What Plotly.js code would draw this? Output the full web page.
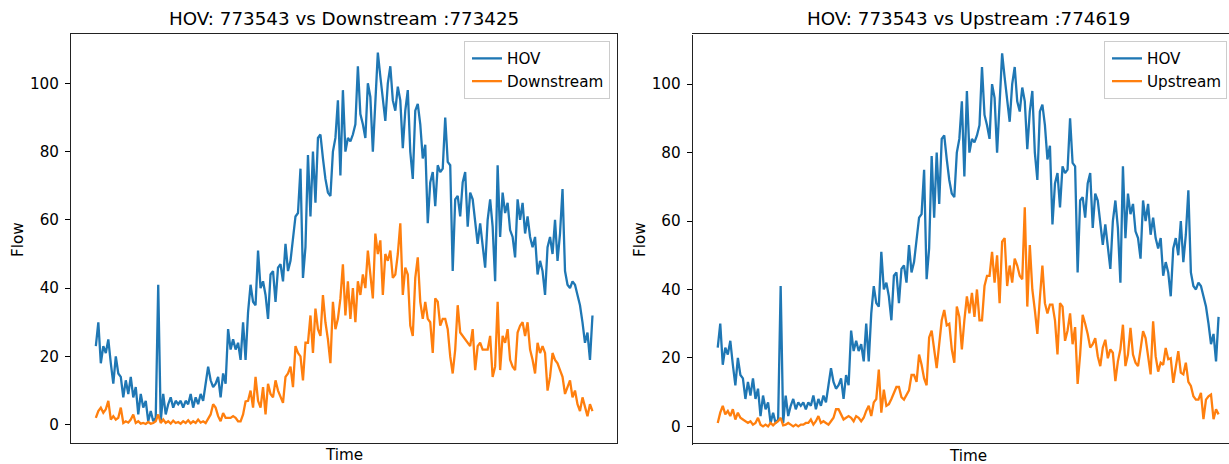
<!DOCTYPE html>
<html>
<head>
<meta charset="utf-8">
<script src="https://cdn.plot.ly/plotly-3.0.1.min.js"></script>
<style>
  html, body { margin: 0; padding: 0; background: #fff; overflow: hidden; }
  #chart { width: 1260px; height: 464px; }
</style>
</head>
<body>
<div id="chart"></div>
<script>
// Flow per sample for the HOV detector and its neighbours
const hovFlow = [
  23, 30, 18, 23, 21, 25, 18, 12, 20, 15,
  14, 8, 13, 9, 14, 8, 11, 3, 9, 5,
  7, 1, 4, 1, 2, 41, 1, 9, 3, 6,
  8, 5, 7, 6, 7, 5, 7, 6, 9, 5,
  8, 6, 9, 7, 12, 17, 13, 11, 12, 14,
  8, 15, 12, 28, 22, 25, 22, 24, 19, 30,
  19, 33, 41, 36, 35, 51, 40, 42, 38, 31,
  44, 45, 36, 46, 47, 42, 53, 45, 48, 55,
  61, 62, 75, 43, 52, 79, 61, 80, 65, 84,
  85, 78, 72, 68, 67, 80, 84, 95, 73, 98,
  80, 84, 83, 85, 88, 105, 91, 88, 84, 100,
  96, 80, 96, 109, 102, 96, 89, 100, 105, 95,
  92, 99, 95, 81, 92, 98, 80, 72, 92, 94,
  88, 78, 82, 59, 71, 74, 64, 76, 74, 75,
  90, 77, 76, 45, 66, 67, 61, 71, 74, 58,
  68, 66, 60, 53, 59, 53, 46, 60, 66, 58,
  42, 76, 55, 68, 62, 65, 57, 55, 49, 66,
  60, 65, 56, 61, 55, 52, 55, 44, 48, 45,
  38, 52, 55, 50, 60, 48, 56, 69, 45, 41,
  40, 42, 41, 38, 35, 30, 24, 27, 19, 32
];

const downstreamFlow = [
  2, 4, 5, 3.5, 4.5, 7, 1.5, 2.5, 1.5, 2,
  5, 0.5, 1, 0.6, 1.5, 3, 0.5, 1, 0.3, 0.5,
  0.2, 0.8, 0.3, 0.5, 1, 3, 0.5, 1.5, 0.5, 1,
  0.3, 1.2, 0.5, 0.8, 0.3, 1, 0.5, 1.3, 0.4, 1,
  0.5, 1.5, 0.6, 1, 0.5, 2, 3, 6, 5, 2.5,
  1, 3.4, 2, 2, 2, 2.5, 2, 1, 1, 3,
  6.8, 7, 10, 5, 14, 7, 5, 11, 3, 12,
  9, 8, 13, 10, 8, 6.4, 14, 15, 17, 11,
  23, 21, 20, 13, 24, 24, 32, 21, 34, 28,
  26, 38, 30, 25, 18, 36, 28, 31, 37, 47,
  32, 42, 31, 40, 30, 42, 38, 44, 40, 51,
  44, 37, 56, 50, 54, 38, 50, 48, 51, 43,
  44, 50, 59, 38, 46, 44, 29, 26, 43, 49,
  36, 31, 36, 31, 30, 21, 37, 36, 29, 31,
  31, 28, 20, 15, 22, 35, 27, 26, 25, 24,
  23, 28, 16, 23, 24, 22, 22, 22, 26, 14,
  17, 36, 16, 26, 24, 28, 19, 17, 16, 27,
  29, 30, 26, 30, 22, 19, 15, 24, 21, 23,
  21, 10, 14, 21, 19, 18, 16, 14, 9, 11,
  13, 8, 10, 6, 4, 8, 5, 2.5, 6, 4
];

const upstreamFlow = [
  1, 4, 6, 3.5, 4.5, 3, 5, 2, 4, 2.5,
  2, 1.5, 1, 1.5, 0.5, 1, 2.5, 0.5, 0, 0.5,
  0, 1, 0.3, 1, 1.5, 2.5, 0.3, 0.5, 1, 0.5,
  0, 0.5, 0, 0.5, 0.5, 1, 1, 2, 0.5, 1.5,
  3, 1, 1.5, 1, 0.5, 1.5, 2.5, 5, 5, 3.5,
  2, 2.5, 3, 2.5, 1.5, 3, 2.5, 1.5, 2.5, 4.5,
  6, 3, 7, 8, 16.6, 4, 10.7, 6, 6.5, 8,
  9.8, 11.5, 11.5, 8.5, 7.8, 9, 10.5, 15, 15, 13,
  21, 18, 14, 12, 26, 28, 23, 17, 24, 31,
  34, 29.5, 30, 22.5, 18.6, 35, 32, 22.5, 31, 38,
  33, 39, 32, 40, 31, 31, 41, 44, 44, 51,
  42, 50, 36, 54, 55, 41, 47, 42, 49, 47,
  44, 43, 64, 35, 53, 40, 34, 27, 37.5, 47,
  36, 33, 35.6, 35.6, 31, 21, 36, 35, 25, 28,
  33, 24, 29, 12.4, 21, 32.6, 30, 27, 23, 24,
  25.8, 20.5, 17.6, 23, 25.3, 19.9, 22.5, 21.5, 13.2, 19,
  22.5, 29.7, 17.6, 21, 28.8, 21, 18.6, 17.6, 22.5, 27.8,
  25.8, 20, 15.2, 30.7, 20.5, 16, 18.6, 18, 22.9, 19.6,
  19.9, 12.7, 17.6, 22, 15.7, 15.2, 18.6, 13, 11.8, 8.8,
  7.8, 7.8, 9.8, 2.1, 7.8, 8.8, 9.3, 2.1, 5, 3.5
];

const hovId = '773543';
const downstreamId = '773425';
const upstreamId = '774619';
const yTicks = [0, 20, 40, 60, 80, 100];

const timeIdx = hovFlow.map((_, i) => i);

const BLUE = '#1f77b4';
const ORANGE = '#ff7f0e';
const FONT = 'DejaVu Sans, Verdana, sans-serif';
const W = 1260, H = 464;
const SMALL = 15.2;   // tick, label and legend text
const BIG = 18.3;     // subplot titles

function line(y, name, color, xa, ya, legend) {
  return {
    x: timeIdx, y: y, name: name, type: 'scatter', mode: 'lines',
    line: { color: color, width: 2.3 },
    xaxis: xa, yaxis: ya, legend: legend, hoverinfo: 'skip'
  };
}

const data = [
  line(hovFlow, 'HOV', BLUE, 'x', 'y', 'legend'),
  line(downstreamFlow, 'Downstream', ORANGE, 'x', 'y', 'legend'),
  line(hovFlow, 'HOV', BLUE, 'x2', 'y2', 'legend2'),
  line(upstreamFlow, 'Upstream', ORANGE, 'x2', 'y2', 'legend2')
];

const n = timeIdx.length - 1;
const xPad = n * 0.05;
const yMax = Math.max(...hovFlow);
const yRange = [-yMax * 0.05, yMax * 1.05];

function xAxis(dom) {
  return {
    domain: dom, range: [-xPad, n + xPad],
    showticklabels: false, ticks: '', showgrid: false, zeroline: false,
    showline: true, mirror: true, linecolor: '#222', linewidth: 1
  };
}
function yAxis(dom, anchor) {
  return {
    domain: dom, range: yRange, anchor: anchor,
    tickmode: 'array', tickvals: yTicks, ticktext: yTicks.map(String),
    ticks: 'outside', ticklen: 5, tickwidth: 1, tickcolor: '#000',
    ticklabelstandoff: 3,
    tickfont: { family: FONT, size: SMALL, color: '#000' },
    showgrid: false, zeroline: false,
    showline: true, mirror: true, linecolor: '#222', linewidth: 1
  };
}

const legendStyle = {
  bgcolor: 'rgba(255,255,255,0.8)', bordercolor: '#cccccc', borderwidth: 1,
  font: { family: FONT, size: SMALL, color: '#000' },
  yanchor: 'top', tracegroupgap: 0, indentation: 2
};

const layout = {
  width: W, height: H,
  margin: { l: 0, r: 0, t: 0, b: 0 },
  paper_bgcolor: '#fff', plot_bgcolor: '#fff',
  showlegend: true,
  xaxis: xAxis([71 / W, 617.3 / W]),
  yaxis: yAxis([(H - 443.3) / H, (H - 34) / H], 'x'),
  xaxis2: xAxis([692.7 / W, 1243.6 / W]),
  yaxis2: yAxis([(H - 445) / H, (H - 34.7) / H], 'x2'),
  legend: Object.assign({}, legendStyle, { x: 610 / W, xanchor: 'right', y: (H - 41) / H }),
  legend2: Object.assign({}, legendStyle, { x: 1104 / W, xanchor: 'left', y: (H - 41) / H }),
  annotations: [
    { text: 'HOV: ' + hovId + ' vs Downstream :' + downstreamId, x: 344 / W, y: (H - 19) / H, size: BIG },
    { text: 'HOV: ' + hovId + ' vs Upstream :' + upstreamId, x: 968 / W, y: (H - 19) / H, size: BIG },
    { text: 'Time', x: 344 / W, y: (H - 455) / H },
    { text: 'Time', x: 968 / W, y: (H - 456) / H },
    { text: 'Flow', x: 18 / W, y: (H - 240) / H, rot: -90 },
    { text: 'Flow', x: 640 / W, y: (H - 240) / H, rot: -90 }
  ].map(a => ({
    text: a.text, xref: 'paper', yref: 'paper', x: a.x, y: a.y,
    xanchor: 'center', yanchor: 'middle', showarrow: false, textangle: a.rot || 0,
    font: { family: FONT, size: a.size || SMALL, color: '#000' }
  }))
};

Plotly.newPlot('chart', data, layout, { staticPlot: true, displayModeBar: false });
</script>
</body>
</html>
